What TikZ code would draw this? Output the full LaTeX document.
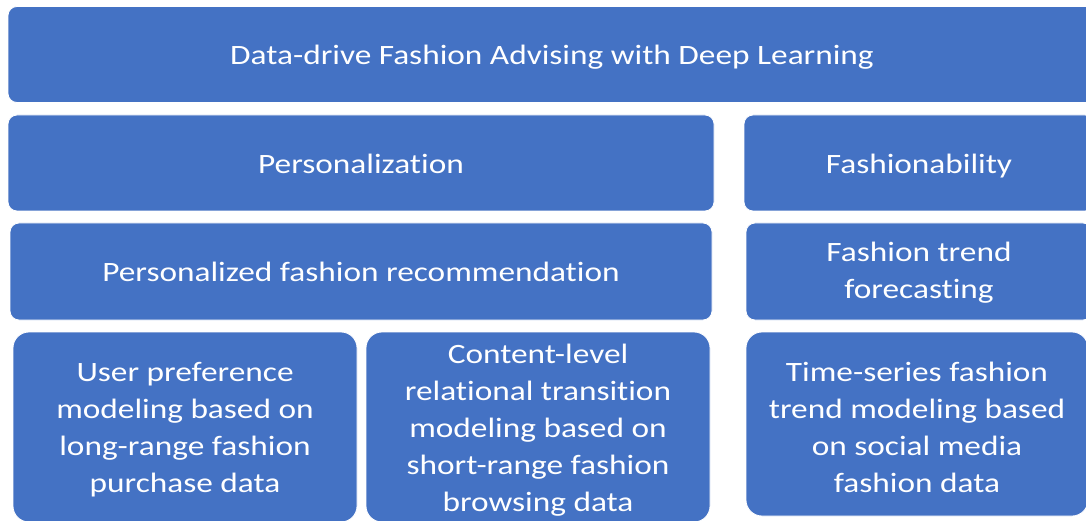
\documentclass[tikz,border=0pt]{standalone}
\usepackage{fontspec}
\setmainfont{Carlito}[FakeStretch=1.19,Ligatures=NoCommon]
\definecolor{boxblue}{HTML}{4472C4}
% centred block of lines, lowered a little without changing its size
\newcommand{\boxtext}[2][3pt]{\raisebox{-#1}[\height][\depth]{\begin{tabular}{@{}c@{}}#2\end{tabular}}}
\begin{document}
\begin{tikzpicture}[x=1pt,y=-1pt,
  blk/.style={fill=boxblue,draw=white,line width=0.8pt,rounded corners=9pt,
    text=white,inner sep=0pt,font=\fontsize{28}{37}\selectfont},
  leaf/.style={blk,rounded corners=16pt}]
\useasboundingbox (0,0) rectangle (1086,521);
\clip (0,0) rectangle (1086,521);
\node[blk,minimum width=1088,minimum height=96] (title) at (552,54.5) {\boxtext{Data-drive Fashion Advising with Deep Learning}};
\node[blk,minimum width=706,minimum height=96] (pers) at (361,163) {\boxtext{Personalization}};
\node[blk,minimum width=350,minimum height=96] (fash) at (919,163) {\boxtext{Fashionability}};
\node[blk,minimum width=702,minimum height=97] (prec) at (361,271.5) {\boxtext{Personalized fashion recommendation}};
\node[blk,minimum width=346,minimum height=97] (trend) at (919,271.5) {\boxtext[1pt]{Fashion trend\\forecasting}};
\node[leaf,minimum width=344,minimum height=190] (user) at (185,427) {\boxtext{User preference\\modeling based on\\long-range fashion\\purchase data}};
\node[leaf,minimum width=344,minimum height=190] (content) at (538,427) {\boxtext{Content-level\\relational transition\\modeling based on\\short-range fashion\\browsing data}};
\node[leaf,minimum width=342,minimum height=184] (ts) at (917,424) {\boxtext[6pt]{Time-series fashion\\trend modeling based\\on social media\\fashion data}};
\end{tikzpicture}
\end{document}
